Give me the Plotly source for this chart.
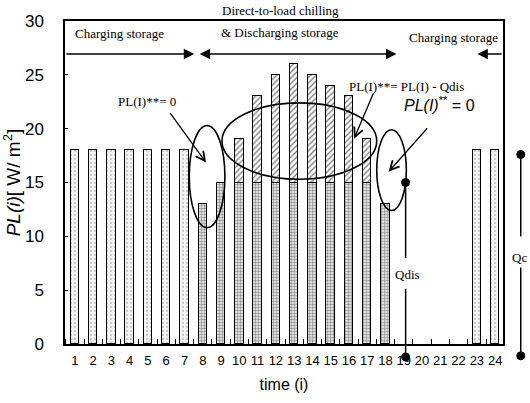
import plotly.graph_objects as go

# ---------------- data ----------------
hours = list(range(1, 25))
tick_labels = [str(h) for h in hours]
# charging-storage hours (storage charged, load met by chiller)
charging_load = [18, 18, 18, 18, 18, 18, 18, None, None, None, None, None,
                 None, None, None, None, None, None, None, None, None, None, 18, 18]
# direct-to-load chilling part
direct_load = [None, None, None, None, None, None, None, 13, 15, 15, 15, 15,
               15, 15, 15, 15, 15, 13, None, None, None, None, None, None]
# part covered by discharging storage (PL(i) - Qdis)
discharge_load = [None, None, None, None, None, None, None, None, None, 4, 8, 10,
                  11, 10, 9, 8, 4, None, None, None, None, None, None, None]
qdis_level = 15.0
qdis_hour = 19.1
qc_top = 17.6

X0, X1 = 0.46, 24.43
Y0, Y1 = 0, 30

SERIF = "Liberation Serif, Times New Roman, serif"
SANS = "Liberation Sans, Arial, sans-serif"

def pxx(v):
    return (v - X0) / (X1 - X0)

def pxy(v):
    return (v - Y0) / (Y1 - Y0)

fig = go.Figure()
bar_w = 0.46
fig.add_trace(go.Bar(
    x=hours, y=charging_load, width=bar_w,
    marker=dict(color="#f4f4f4", line=dict(color="black", width=1.5),
                pattern=dict(shape=".", fgcolor="#9a9a9a", bgcolor="#f4f4f4",
                             size=4, solidity=0.25)),
    showlegend=False))
fig.add_trace(go.Bar(
    x=hours, y=direct_load, width=bar_w,
    marker=dict(color="white", line=dict(color="black", width=1.5),
                pattern=dict(shape=".", fgcolor="#333333", bgcolor="#f2f2f2",
                             size=3, solidity=0.5)),
    showlegend=False))
fig.add_trace(go.Bar(
    x=hours, y=discharge_load, width=bar_w,
    marker=dict(color="white", line=dict(color="black", width=1.5),
                pattern=dict(shape="/", fgcolor="black", bgcolor="white",
                             size=4, solidity=0.35)),
    showlegend=False))

shapes = []
# ellipses
for (xa, xb, ya, yb) in [(7.26, 9.21, 10.8, 20.3), (9.05, 17.52, 15.3, 22.4),
                          (17.52, 19.14, 12.4, 19.9)]:
    shapes.append(dict(type="circle", xref="x", yref="y", x0=xa, x1=xb, y0=ya, y1=yb,
                       line=dict(color="black", width=1.6)))

# Qdis marker line
qx = pxx(qdis_hour)
shapes.append(dict(type="line", xref="paper", yref="paper", x0=qx, x1=qx,
                   y0=pxy(qdis_level), y1=pxy(8.0), line=dict(color="black", width=1.5)))
shapes.append(dict(type="line", xref="paper", yref="paper", x0=qx, x1=qx,
                   y0=pxy(5.1), y1=pxy(-1.2), line=dict(color="black", width=1.5)))
# Qc marker line
cx = 1.0405
shapes.append(dict(type="line", xref="paper", yref="paper", x0=cx, x1=cx,
                   y0=pxy(qc_top), y1=pxy(10.0), line=dict(color="black", width=1.5)))
shapes.append(dict(type="line", xref="paper", yref="paper", x0=cx, x1=cx,
                   y0=pxy(7.1), y1=pxy(-1.1), line=dict(color="black", width=1.5)))
for (xx, yy) in [(qx, pxy(qdis_level)), (qx, pxy(-1.2)), (cx, pxy(qc_top)), (cx, pxy(-1.1))]:
    shapes.append(dict(type="circle", xref="paper", yref="paper", xsizemode="pixel",
                       ysizemode="pixel", xanchor=xx, yanchor=yy, x0=-4, x1=4, y0=-4, y1=4,
                       fillcolor="black", line=dict(color="black", width=1)))

ann = []
ARROW_Y = 26.94
# top storage arrows
ann.append(dict(x=7.53, y=ARROW_Y, ax=X0, ay=ARROW_Y, xref="x", yref="y", axref="x", ayref="y",
                text="", showarrow=True, arrowhead=2, arrowsize=1.3, arrowwidth=1.6,
                arrowcolor="black"))
ann.append(dict(x=18.6, y=ARROW_Y, ax=7.75, ay=ARROW_Y, xref="x", yref="y", axref="x", ayref="y",
                text="", showarrow=True, arrowhead=2, startarrowhead=2, arrowside="end+start",
                arrowsize=1.3, startarrowsize=1.3, arrowwidth=1.6, arrowcolor="black"))
ann.append(dict(x=23.03, y=ARROW_Y, ax=X1, ay=ARROW_Y, xref="x", yref="y", axref="x", ayref="y",
                text="", showarrow=True, arrowhead=2, arrowsize=1.3, arrowwidth=1.6,
                arrowcolor="black"))

def txt(x, y, s, font, size, xref="paper", yref="paper", xanchor="center"):
    ann.append(dict(x=x, y=y, xref=xref, yref=yref, text=s, showarrow=False,
                    xanchor=xanchor, yanchor="middle",
                    font=dict(family=font, size=size, color="black")))

txt(0.491, 1.032, "Direct-to-load chilling", SERIF, 13)
txt(0.124, 0.962, "Charging storage", SERIF, 13)
txt(0.491, 0.964, "&amp; Discharging storage", SERIF, 13)
txt(0.886, 0.949, "Charging storage", SERIF, 13)

txt(4.94, 22.5, "PL(I)**= 0", SERIF, 13, "x", "y")
txt(19.14, 23.9, "PL(I)**= PL(I) - Qdis", SERIF, 13, "x", "y")
txt(20.95, 22.3, "<i>PL(I)</i><sup>**</sup> = 0", SANS, 16, "x", "y")
txt(19.2, 6.5, "Qdis", SERIF, 13, "x", "y")
txt((529 - 59) / 444, pxy(8.05), "Qc", SERIF, 13, xanchor="right")

# callout arrows
for (x, y, ax, ay) in [(8.18, 16.85, -37, -51), (16.28, 19.07, 20, -47), (18.17, 16.0, 40, -45)]:
    ann.append(dict(x=x, y=y, xref="x", yref="y", ax=ax, ay=ay, text="", showarrow=True,
                    arrowhead=5, arrowsize=1.4, arrowwidth=1.3, arrowcolor="black"))

fig.update_layout(
    width=530, height=403,
    margin=dict(l=59, r=27, t=21, b=58),
    paper_bgcolor="white", plot_bgcolor="white",
    barmode="stack", bargap=0,
    shapes=shapes, annotations=ann,
    xaxis=dict(range=[X0, X1], tickmode="array", tickvals=hours, ticktext=tick_labels,
               ticks="", showline=True, linecolor="black", linewidth=1.5, mirror=True,
               showgrid=False, zeroline=False, ticklabelstandoff=4,
               minor=dict(ticks="inside", tick0=0.5, dtick=1, ticklen=5, tickcolor="black",
                          showgrid=False),
               tickfont=dict(family=SANS, size=13, color="black"),
               title=dict(text="time (i)", font=dict(family=SANS, size=16, color="black"),
                          standoff=11)),
    yaxis=dict(range=[Y0, Y1], tickvals=[0, 5, 10, 15, 20, 25, 30], ticks="inside",
               ticklen=3, tickcolor="black",
               showline=True, linecolor="black", linewidth=1.5, mirror=True,
               showgrid=False, zeroline=False, ticklabelstandoff=16,
               tickfont=dict(family=SANS, size=17, color="black"),
               title=dict(text="<i>PL(i)</i>[ W/ m<sup>2</sup>]",
                          font=dict(family=SANS, size=19, color="black"), standoff=0)),
)

fig.write_html("out.html", config={"displayModeBar": False},
               post_script="document.body.style.margin='0';")
